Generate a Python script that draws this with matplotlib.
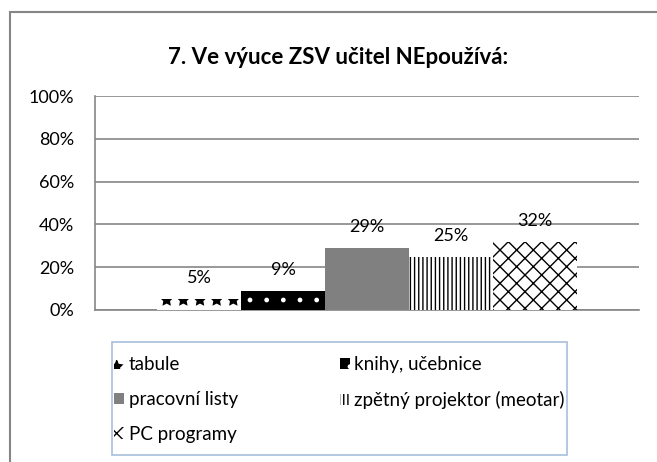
import matplotlib
matplotlib.use("Agg")
import matplotlib.pyplot as plt
import matplotlib.patches as mpatches
import numpy as np

plt.rcParams['font.family'] = ['Lato', 'DejaVu Sans']
plt.rcParams['hatch.linewidth'] = 1.0

# Data
title = "7. Ve výuce ZSV učitel NEpoužívá:"
series = ["tabule", "knihy, učebnice", "pracovní listy",
          "zpětný projektor (meotar)", "PC programy"]
values = [0.05, 0.09, 0.29, 0.25, 0.32]
labels = ["5%", "9%", "29%", "25%", "32%"]
yticks = [0, 0.2, 0.4, 0.6, 0.8, 1.0]
ytick_labels = ["0%", "20%", "40%", "60%", "80%", "100%"]

# Bar styles: (face, hatch, hatch colour)
STYLES = [
    ('white', '*', 'black'),
    ('black', '.', 'white'),
    ('#808080', None, None),
    ('white', '||||', 'black'),
    ('white', 'xx', 'black'),
]
GRID = '#868686'
FS = 13

fig = plt.figure(figsize=(6.57, 4.62), dpi=100, facecolor='white')

# outer chart border (runs off the right/bottom edges)
fig.patches.append(mpatches.Rectangle((10 / 657, -0.05), 1.0, 1 - 12 / 462 + 0.05,
                                      transform=fig.transFigure, fill=False,
                                      edgecolor=GRID, linewidth=1.5))

ax = fig.add_axes([95 / 657, 1 - 310 / 462, 544 / 657, 214 / 462])

x = np.arange(len(values))
handles = []
for i, (v, lab, (fc, hatch, hc)) in enumerate(zip(values, labels, STYLES)):
    ax.bar(x[i], v, width=1.0, color=fc, linewidth=0, zorder=3)
    if hatch:
        ax.bar(x[i], v, width=1.0, color='none', edgecolor=hc, hatch=hatch,
               linewidth=0, zorder=4)
    ax.annotate(lab, (x[i], v), xytext=(0, 15), textcoords='offset points',
                ha='center', va='center', fontsize=FS, color='#000000')
    handles.append(mpatches.Patch(facecolor=fc, edgecolor=hc if hc else fc,
                                  hatch=hatch, linewidth=0, label=series[i]))

pad = (544 / 84 - 5) / 2
ax.set_xlim(-0.5 - pad, 4.5 + pad)
ax.set_ylim(0, 1)
ax.set_yticks(yticks)
ax.set_yticklabels(ytick_labels, fontsize=FS)
ax.set_xticks([])
ax.tick_params(axis='y', length=0, pad=15)
ax.grid(axis='y', color=GRID, linewidth=1.2, zorder=0)
for side in ['top', 'right']:
    ax.spines[side].set_visible(False)
for side in ['left', 'bottom']:
    ax.spines[side].set_color(GRID)
    ax.spines[side].set_linewidth(1.2)

fig.text(338 / 657, 1 - 57 / 462, title, ha='center', va='center',
         fontsize=16, fontweight='bold')

# legend box drawn separately so the entries can sit close to its edge
fig.patches.append(mpatches.Rectangle((112 / 657, 1 - 455 / 462), 455 / 657, 113 / 462,
                                      transform=fig.transFigure, facecolor='white',
                                      edgecolor='#a7bfde', linewidth=1.2))

# legend filled column-wise, so reorder to read row-wise
order = [0, 2, 4, 1, 3]
leg = fig.legend([handles[i] for i in order], [series[i] for i in order],
                 ncol=2, loc='upper left',
                 bbox_to_anchor=(114 / 657, 1 - 356 / 462, 451 / 657, 0),
                 mode='expand', fontsize=13.5, frameon=False,
                 handlelength=0.55, handleheight=0.55, handletextpad=0.25,
                 labelspacing=0.95, borderpad=0, borderaxespad=0,
                 columnspacing=1.0)

fig.savefig("out.png", dpi=100, facecolor='white')
